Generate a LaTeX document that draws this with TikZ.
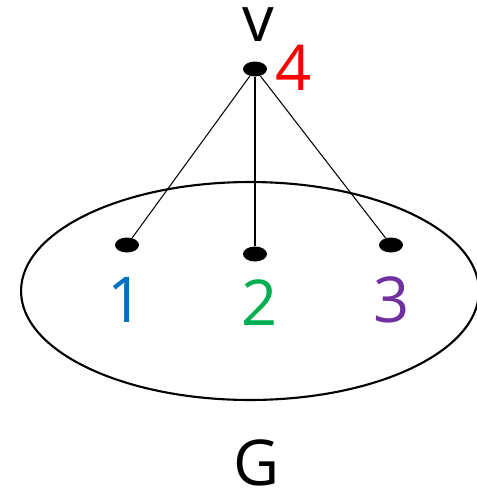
\documentclass[tikz,border=0pt]{standalone}
\usepackage{fontspec}
\setmainfont{Open Sans}
\usetikzlibrary{shapes.geometric}

\definecolor{lblblue}{RGB}{0,112,192}
\definecolor{lblgreen}{RGB}{0,176,80}
\definecolor{lblpurple}{RGB}{112,48,160}

\begin{document}
\begin{tikzpicture}[
    x=0.02cm, y=-0.02cm,
    font=\fontsize{36}{40}\selectfont,
    dot/.style={ellipse, fill=black, inner sep=0pt, minimum width=.48cm,
      minimum height=.3cm},
    graphset/.style={ellipse, draw, line width=1.2pt, inner sep=0pt,
      minimum width=9.16cm, minimum height=4.36cm},
    lbl/.style={anchor=base, inner sep=2pt},
    edge/.style={line width=.6pt}
  ]
    \useasboundingbox (0,0) rectangle (477,494);

    \node[graphset] (g) at (250,291) {};

    \node[dot] (v) at (255,69) {};
    \node[dot] (a) at (127,245) {};
    \node[dot] (b) at (255,254) {};
    \node[dot] (c) at (391,245) {};

    \node[lbl] (vname) at (258,41) {v};
    \node[lbl, text=red] (vnum) at (294,90) {4};
    \node[lbl, text=lblblue] (anum) at (126,322) {1};
    \node[lbl, text=lblgreen] (bnum) at (260,325) {2};
    \node[lbl, text=lblpurple] (cnum) at (392,322) {3};
    \node[lbl] (gname) at (257,485) {G};

    \draw[edge] (v) -- (a);
    \draw[edge] (v) -- (b);
    \draw[edge] (v) -- (c);
  \end{tikzpicture}
\end{document}
